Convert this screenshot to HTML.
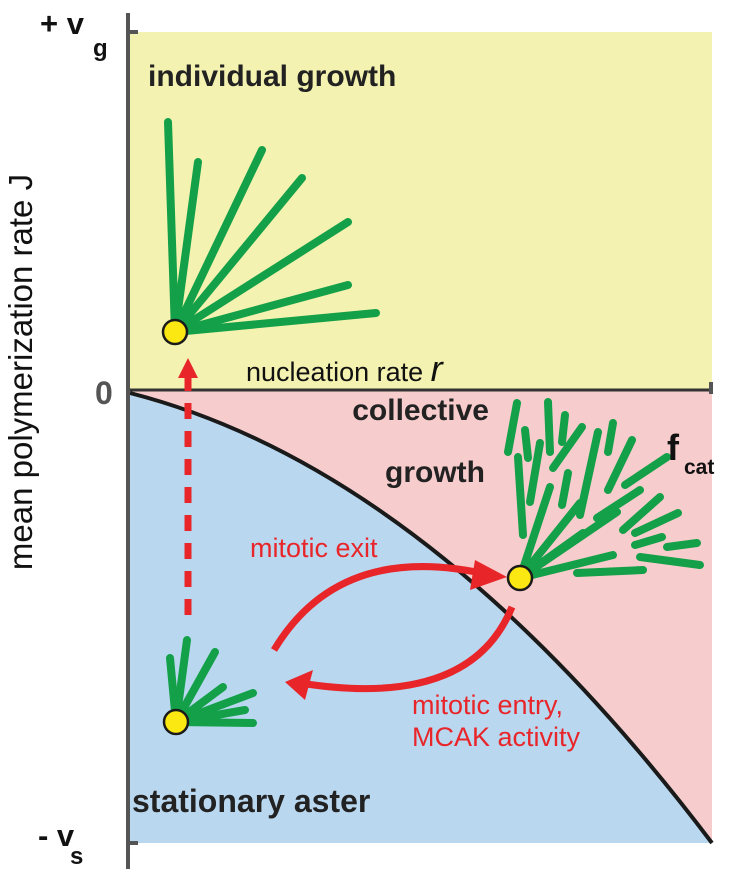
<!DOCTYPE html>
<html><head><style>body{margin:0;background:#fff}svg{display:block}</style></head><body>
<svg width="736" height="871" viewBox="0 0 736 871" xmlns="http://www.w3.org/2000/svg" font-family="Liberation Sans, sans-serif">
<rect x="130" y="32" width="582" height="359" fill="#f3f2b0"/>
<rect x="130" y="391" width="582" height="452" fill="#f7cccc"/>
<path d="M130,393 Q430,470 712,843 L130,843 Z" fill="#b9d8f0"/>
<path d="M130,393 Q430,470 712,843" fill="none" stroke="#1a1a1a" stroke-width="4"/>
<line x1="128" y1="390" x2="712" y2="390" stroke="#333" stroke-width="3"/>
<line x1="711" y1="382" x2="711" y2="394" stroke="#555" stroke-width="4"/>
<line x1="128" y1="13" x2="128" y2="869" stroke="#555" stroke-width="4"/>
<line x1="128" y1="32" x2="138" y2="32" stroke="#555" stroke-width="4"/>
<line x1="128" y1="843" x2="138" y2="843" stroke="#555" stroke-width="4"/>
<g stroke="#13a049" stroke-width="8" stroke-linecap="round">
<line x1="175" y1="332" x2="168" y2="122"/><line x1="175" y1="332" x2="198" y2="162"/>
<line x1="175" y1="332" x2="262" y2="150"/><line x1="175" y1="332" x2="302" y2="178"/>
<line x1="175" y1="332" x2="348" y2="222"/><line x1="175" y1="332" x2="348" y2="285"/>
<line x1="175" y1="332" x2="376" y2="313"/>
<line x1="176" y1="722" x2="187" y2="640"/><line x1="176" y1="722" x2="170" y2="658"/>
<line x1="176" y1="722" x2="215" y2="652"/><line x1="176" y1="722" x2="223" y2="687"/>
<line x1="176" y1="722" x2="253" y2="693"/><line x1="176" y1="722" x2="245" y2="710"/>
<line x1="176" y1="722" x2="253" y2="723"/>
<line x1="517" y1="403" x2="508" y2="452"/><line x1="525" y1="430" x2="528" y2="458"/>
<line x1="548" y1="402" x2="550" y2="452"/><line x1="565" y1="415" x2="562" y2="442"/>
<line x1="540" y1="443" x2="530" y2="502"/><line x1="518" y1="457" x2="523" y2="535"/>
<line x1="582" y1="427" x2="553" y2="468"/><line x1="598" y1="432" x2="580" y2="515"/>
<line x1="613" y1="423" x2="608" y2="452"/><line x1="632" y1="440" x2="608" y2="490"/>
<line x1="568" y1="473" x2="562" y2="505"/><line x1="667" y1="457" x2="625" y2="485"/>
<line x1="640" y1="490" x2="597" y2="518"/><line x1="660" y1="497" x2="623" y2="530"/>
<line x1="678" y1="513" x2="635" y2="533"/><line x1="662" y1="537" x2="635" y2="545"/>
<line x1="697" y1="543" x2="667" y2="547"/><line x1="700" y1="565" x2="640" y2="557"/>
<line x1="643" y1="570" x2="577" y2="573"/>
<line x1="520" y1="578" x2="550" y2="487"/><line x1="520" y1="578" x2="580" y2="503"/>
<line x1="520" y1="578" x2="617" y2="512"/><line x1="520" y1="578" x2="613" y2="555"/>
<line x1="520" y1="578" x2="583" y2="533"/>
</g>
<g fill="#fbe812" stroke="#1a1a1a" stroke-width="2.5">
<circle cx="175" cy="332" r="12"/><circle cx="176" cy="722" r="12"/><circle cx="520" cy="578" r="12"/>
</g>
<g stroke="#e8262a" stroke-width="7" fill="none">
<line x1="188" y1="615" x2="188" y2="375" stroke-dasharray="16,12"/>
<path d="M274,650 Q340,540 490,575"/>
<path d="M512,607 Q470,710 300,683"/>
</g>
<g fill="#e8262a">
<polygon points="188,358 178,378 198,378"/>
<polygon points="507,577 475,560 470,590"/>
<polygon points="285,682 313,670 305,700"/>
</g>
<g font-weight="bold" fill="#222" font-size="30">
<text x="148" y="86">individual growth</text>
<text x="489" y="420" text-anchor="end">collective</text>
<text x="485" y="482" text-anchor="end">growth</text>
<text x="132" y="812" font-size="32">stationary aster</text>
</g>
<text x="246" y="381" font-size="27" fill="#111">nucleation rate <tspan font-size="36" font-style="italic">r</tspan></text>
<text x="667" y="460" font-size="36" font-weight="bold" fill="#111">f</text>
<text x="684" y="474" font-size="21" font-weight="bold" fill="#111">cat</text>
<text x="40" y="34" font-size="31" font-weight="bold" fill="#111">+ v</text>
<text x="93" y="56" font-size="24" font-weight="bold" fill="#111">g</text>
<text x="95" y="404" font-size="32" font-weight="bold" fill="#555">0</text>
<text x="38" y="846" font-size="31" font-weight="bold" fill="#111">- v</text>
<text x="70" y="864" font-size="24" font-weight="bold" fill="#111">s</text>
<text transform="translate(32,372) rotate(-90)" text-anchor="middle" font-size="33" fill="#111">mean polymerization rate J</text>
<g fill="#e8262a" font-size="27">
<text x="250" y="557">mitotic exit</text>
<text x="412" y="714">mitotic entry,</text>
<text x="412" y="746">MCAK activity</text>
</g>
</svg>
</body></html>
